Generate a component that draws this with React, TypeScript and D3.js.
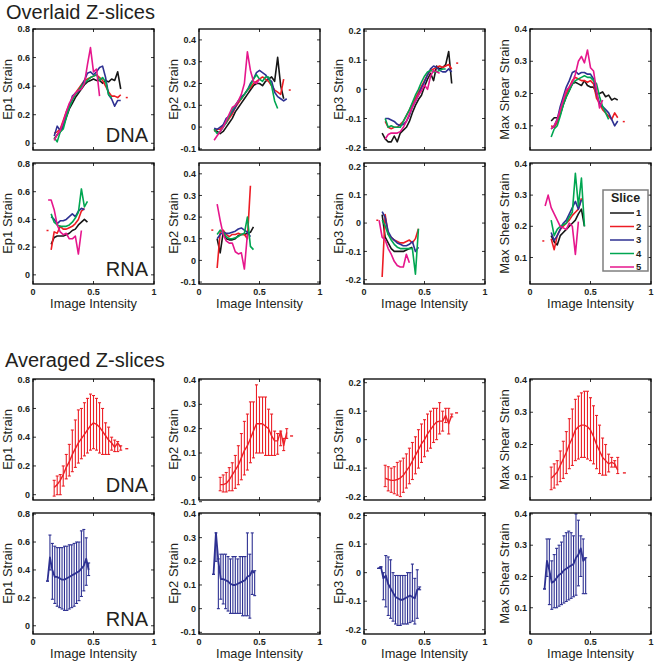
import React from "react";
import * as d3 from "d3";

// ---------- layout ----------
const W = 655;
const H = 663;
const COL_X = [33, 199, 364, 530];
const ROW_Y = [29, 163, 379, 513];
const PW = 121;
const PH = 121;
const FONT = "'Liberation Sans', Arial, Helvetica, sans-serif";
const TEXT = "#231f20";

// ---------- axes ----------
const X_TICKS = [0, 0.5, 1];
const Y_LABELS = ["Ep1 Strain", "Ep2 Strain", "Ep3 Strain", "Max Shear Strain"];
const Y_TICKS = [
  [0, 0.2, 0.4, 0.6, 0.8],
  [-0.1, 0, 0.1, 0.2, 0.3, 0.4],
  [-0.2, -0.1, 0, 0.1, 0.2],
  [0.1, 0.2, 0.3, 0.4],
];
// [row][col]
const Y_DOMAINS = [
  [[-0.047, 0.8], [-0.105, 0.45], [-0.208, 0.207], [0.025, 0.4]],
  [[-0.066, 0.807], [-0.109, 0.45], [-0.215, 0.212], [0.015, 0.403]],
  [[-0.037, 0.805], [-0.093, 0.404], [-0.212, 0.213], [0.028, 0.403]],
  [[-0.059, 0.808], [-0.107, 0.404], [-0.215, 0.209], [0.016, 0.403]],
];

const SLICES = ["1", "2", "3", "4", "5"];
const SLICE_COLORS = ["#161616", "#ed1c24", "#2e3192", "#00a651", "#e6168c"];
const DNA_COLOR = "#ec2027";
const RNA_COLOR = "#2e3192";

// ---------- overlaid data ----------
const DNA_X = [0.125, 0.15, 0.175, 0.2, 0.225, 0.25, 0.275, 0.3, 0.325, 0.35, 0.375, 0.4, 0.425, 0.45, 0.475, 0.5, 0.525, 0.55, 0.575, 0.6, 0.625, 0.65, 0.675, 0.7, 0.725];
const RNA_X = [0.125, 0.15, 0.175, 0.2, 0.225, 0.25, 0.275, 0.3, 0.325, 0.35, 0.375, 0.4, 0.425, 0.45];

const ep1Dna = [
  [null, null, 0.03, 0.06, 0.08, 0.12, 0.18, 0.24, 0.28, 0.32, 0.35, 0.38, 0.41, 0.43, 0.44, 0.45, 0.44, 0.44, 0.42, 0.44, 0.43, 0.45, 0.44, 0.5, 0.38],
  [null, null, 0.07, 0.08, 0.1, 0.16, 0.22, 0.27, 0.31, 0.35, 0.38, 0.41, 0.44, 0.45, 0.46, 0.47, 0.48, 0.46, 0.44, 0.4, 0.36, 0.33, 0.33, 0.32, 0.34],
  [null, null, 0.05, 0.12, 0.09, 0.12, 0.2, 0.25, 0.33, 0.35, 0.36, 0.4, 0.44, 0.49, 0.5, 0.48, 0.5, 0.53, 0.54, 0.46, 0.34, 0.31, 0.26, 0.3, 0.3],
  [null, null, 0.04, 0.01, 0.08, 0.1, 0.18, 0.25, 0.3, 0.34, 0.37, 0.4, 0.42, 0.44, 0.46, 0.47, 0.48, 0.44, 0.46, 0.43, 0.34, 0.32, null, null, null],
  [null, null, 0.02, 0.06, 0.09, 0.15, 0.22, 0.28, 0.32, 0.35, 0.37, 0.38, 0.42, 0.55, 0.67, 0.5, 0.52, 0.33, null, null, null, null, null, null, null],
];
const ep2Dna = [
  [-0.01, -0.02, -0.03, -0.02, 0.0, 0.02, 0.04, 0.07, 0.09, 0.11, 0.13, 0.15, 0.17, 0.19, 0.2, 0.2, 0.19, 0.21, 0.22, 0.23, 0.21, 0.32, 0.19, 0.13, null],
  [-0.02, -0.01, -0.01, 0.01, 0.02, 0.04, 0.06, 0.09, 0.11, 0.13, 0.15, 0.17, 0.18, 0.2, 0.21, 0.22, 0.23, 0.22, 0.21, 0.19, 0.17, 0.16, 0.15, 0.22, null],
  [-0.005, -0.01, 0.0, 0.01, 0.04, 0.05, 0.07, 0.09, 0.12, 0.14, 0.15, 0.17, 0.2, 0.22, 0.25, 0.26, 0.25, 0.24, 0.22, 0.21, 0.16, 0.14, 0.13, 0.12, 0.13],
  [-0.01, -0.03, -0.02, 0.0, 0.02, 0.05, 0.08, 0.1, 0.12, 0.13, 0.15, 0.17, 0.19, 0.22, 0.24, 0.22, 0.21, 0.23, 0.23, 0.19, 0.12, 0.085, null, null, null],
  [-0.06, -0.04, -0.02, 0.0, 0.03, 0.06, 0.09, 0.1, 0.12, 0.15, 0.2, 0.345, 0.26, 0.21, 0.2, 0.22, null, null, null, null, null, null, null, null, null],
];
const ep3Dna = [
  [null, -0.15, -0.17, -0.18, -0.18, -0.16, -0.18, -0.15, -0.14, -0.13, -0.11, -0.08, -0.055, -0.035, -0.02, 0.01, 0.035, 0.055, 0.03, 0.08, 0.07, 0.075, 0.085, 0.13, 0.02],
  [null, null, -0.11, -0.13, -0.135, -0.13, -0.13, -0.12, -0.11, -0.09, -0.07, -0.05, -0.03, -0.01, 0.01, 0.03, 0.05, 0.065, 0.07, 0.075, 0.08, 0.075, 0.08, 0.085, 0.07],
  [null, null, -0.1, -0.1, -0.105, -0.11, -0.12, -0.125, -0.12, -0.11, -0.09, -0.06, -0.04, -0.02, 0.005, 0.025, 0.05, 0.07, 0.08, 0.075, 0.065, 0.06, 0.06, 0.07, 0.06],
  [null, null, -0.1, -0.13, -0.125, -0.13, -0.13, -0.13, -0.11, -0.09, -0.07, -0.045, -0.02, 0.0, 0.025, 0.045, 0.06, 0.065, 0.06, 0.06, 0.065, 0.07, 0.07, null, null],
  [null, null, -0.17, -0.155, -0.15, -0.15, -0.15, -0.145, -0.13, -0.11, -0.085, -0.06, -0.04, -0.02, -0.005, 0.015, 0.0, 0.045, 0.065, 0.06, 0.055, null, null, null, null],
];
const maxDna = [
  [null, null, 0.115, 0.125, 0.125, 0.135, 0.165, 0.19, 0.21, 0.23, 0.235, 0.23, 0.225, 0.24, 0.225, 0.22, 0.22, 0.2, 0.2, 0.205, 0.19, 0.195, 0.18, 0.185, 0.18],
  [null, null, 0.1, 0.095, 0.11, 0.14, 0.17, 0.2, 0.22, 0.24, 0.25, 0.245, 0.24, 0.24, 0.235, 0.24, 0.23, 0.185, 0.17, 0.15, 0.14, 0.13, 0.12, 0.14, 0.125],
  [null, null, 0.09, 0.1, 0.12, 0.16, 0.19, 0.22, 0.24, 0.265, 0.27, 0.26, 0.265, 0.265, 0.26, 0.26, 0.245, 0.2, 0.17, 0.16, 0.15, 0.14, 0.12, 0.1, 0.115],
  [null, null, 0.065, 0.09, 0.1, 0.13, 0.165, 0.19, 0.21, 0.23, 0.24, 0.245, 0.25, 0.255, 0.25, 0.25, 0.24, 0.23, 0.19, 0.16, 0.14, 0.12, null, null, null],
  [null, null, 0.09, 0.1, 0.12, 0.15, 0.18, 0.21, 0.22, 0.235, 0.26, 0.3, 0.315, 0.295, 0.335, 0.28, 0.27, 0.21, 0.155, 0.18, null, null, null, null, null],
];
const ep1Rna = [
  [null, 0.22, 0.27, 0.28, 0.28, 0.28, 0.29, 0.3, 0.32, 0.33, 0.36, 0.38, 0.4, 0.38],
  [null, 0.18, 0.31, 0.3, 0.35, 0.33, 0.33, 0.34, 0.35, 0.37, 0.4, 0.46, 0.48, null],
  [null, 0.42, 0.4, 0.37, 0.39, 0.39, 0.4, 0.42, 0.44, 0.42, 0.46, 0.48, 0.47, null],
  [null, 0.44, 0.38, 0.36, 0.35, 0.35, 0.35, 0.36, 0.38, 0.41, 0.45, 0.62, 0.49, 0.53],
  [0.54, 0.54, 0.47, 0.36, 0.31, 0.29, 0.3, 0.26, 0.26, 0.28, 0.15, 0.32, null, null],
];
const ep2Rna = [
  [null, 0.1, 0.035, 0.13, 0.1, 0.095, 0.095, 0.1, 0.115, 0.12, 0.12, 0.125, 0.13, 0.155],
  [null, -0.035, 0.13, 0.14, 0.12, 0.11, 0.12, 0.12, 0.125, 0.12, 0.12, 0.1, 0.345, null],
  [null, 0.1, 0.12, 0.13, 0.125, 0.125, 0.13, 0.135, 0.145, 0.15, 0.14, 0.13, 0.11, null],
  [null, 0.12, 0.14, 0.13, 0.11, 0.1, 0.1, 0.105, 0.11, 0.12, 0.125, 0.2, 0.065, 0.05],
  [null, 0.26, 0.185, 0.12, 0.09, 0.08, 0.08, 0.04, 0.03, 0.035, -0.04, 0.12, null, null],
];
const ep3Rna = [
  [null, 0.03, -0.05, -0.07, -0.09, -0.1, -0.1, -0.1, -0.1, -0.095, -0.09, -0.085, null, null],
  [null, -0.19, 0.03, -0.04, -0.05, -0.06, -0.065, -0.07, -0.07, -0.065, -0.06, -0.07, -0.055, -0.02],
  [null, 0.04, 0.02, -0.03, -0.05, -0.06, -0.07, -0.075, -0.08, -0.08, -0.075, -0.065, -0.1, -0.085],
  [null, 0.01, -0.01, -0.04, -0.06, -0.075, -0.085, -0.09, -0.09, -0.09, -0.09, -0.09, -0.18, -0.02],
  [0.01, -0.05, -0.06, -0.09, -0.11, -0.135, -0.15, -0.155, -0.155, -0.11, -0.14, null, null, null],
];
const maxRna = [
  [null, null, 0.17, 0.15, 0.14, 0.17, 0.18, 0.19, 0.2, 0.21, 0.22, 0.24, 0.255, 0.2],
  [null, null, 0.16, 0.125, 0.17, 0.19, 0.2, 0.21, 0.22, 0.235, 0.245, 0.255, 0.29, null],
  [null, null, 0.18, 0.155, 0.17, 0.19, 0.21, 0.22, 0.24, 0.26, 0.28, 0.255, 0.285, null],
  [null, null, 0.22, 0.17, 0.19, 0.2, 0.205, 0.21, 0.23, 0.245, 0.37, 0.265, 0.355, 0.2],
  [0.265, 0.3, 0.26, 0.24, 0.22, 0.2, 0.195, 0.19, 0.21, 0.2, 0.11, 0.215, null, null],
];
// isolated single red points [x, y]
const STRAY_DNA = [[0.775, 0.32], [0.75, 0.17], [0.77, 0.09], [0.775, 0.113]];
const STRAY_RNA = [[0.12, 0.32], [0.11, 0.14], [0.11, 0.01], [0.11, 0.153]];

// ---------- averaged data ----------
const AVG_DNA_X = [0.175, 0.2, 0.225, 0.25, 0.275, 0.3, 0.325, 0.35, 0.375, 0.4, 0.425, 0.45, 0.475, 0.5, 0.525, 0.55, 0.575, 0.6, 0.625, 0.65, 0.675, 0.7, 0.725];
const AVG_RNA_X = [0.12, 0.14, 0.16, 0.18, 0.2, 0.22, 0.24, 0.26, 0.28, 0.3, 0.32, 0.34, 0.36, 0.38, 0.4, 0.42, 0.44, 0.46];

const ep1DnaMean = [0.05, 0.07, 0.1, 0.14, 0.19, 0.23, 0.28, 0.32, 0.36, 0.39, 0.42, 0.45, 0.48, 0.5, 0.49, 0.47, 0.44, 0.41, 0.38, 0.36, 0.33, 0.36, 0.33];
const ep1DnaHi = [0.1, 0.13, 0.14, 0.2, 0.28, 0.35, 0.45, 0.52, 0.59, 0.6, 0.64, 0.67, 0.7, 0.69, 0.67, 0.64, 0.6, 0.5, 0.47, 0.4, 0.38, 0.37, 0.34];
const ep1DnaLo = [-0.01, 0.0, 0.0, 0.06, 0.11, 0.13, 0.16, 0.19, 0.22, 0.25, 0.27, 0.29, 0.31, 0.32, 0.31, 0.29, 0.28, 0.28, 0.28, 0.31, 0.3, 0.3, 0.31];

const ep2DnaMean = [-0.03, -0.03, -0.025, -0.01, 0.01, 0.03, 0.05, 0.08, 0.11, 0.13, 0.16, 0.19, 0.22, 0.22, 0.22, 0.21, 0.2, 0.17, 0.15, 0.15, 0.19, 0.13, 0.185];
const ep2DnaHi = [0.0, 0.01, 0.02, 0.04, 0.06, 0.09, 0.13, 0.18, 0.23, 0.26, 0.31, 0.31, 0.38, 0.33, 0.33, 0.33, 0.28, 0.26, 0.19, 0.18, 0.19, 0.16, 0.2];
const ep2DnaLo = [-0.055, -0.06, -0.06, -0.055, -0.055, -0.045, -0.03, -0.01, 0.01, 0.03, 0.06, 0.08, 0.1, 0.1, 0.1, 0.09, 0.09, 0.09, 0.09, 0.095, 0.13, 0.11, 0.16];

const ep3DnaMean = [-0.135, -0.14, -0.143, -0.143, -0.14, -0.135, -0.125, -0.11, -0.095, -0.075, -0.055, -0.035, -0.015, 0.0, 0.02, 0.035, 0.05, 0.062, 0.065, 0.065, 0.085, 0.056, 0.085];
const ep3DnaHi = [-0.09, -0.095, -0.1, -0.095, -0.08, -0.075, -0.065, -0.05, -0.03, -0.01, 0.01, 0.035, 0.055, 0.07, 0.09, 0.1, 0.11, 0.11, 0.13, 0.1, 0.11, 0.11, 0.09];
const ep3DnaLo = [-0.165, -0.18, -0.185, -0.19, -0.195, -0.2, -0.185, -0.17, -0.155, -0.14, -0.12, -0.1, -0.08, -0.06, -0.04, -0.03, -0.01, 0.0, 0.02, 0.03, 0.06, 0.02, 0.08];

const maxDnaMean = [0.095, 0.105, 0.115, 0.135, 0.155, 0.175, 0.2, 0.22, 0.245, 0.255, 0.26, 0.26, 0.255, 0.245, 0.225, 0.2, 0.18, 0.16, 0.15, 0.14, 0.145, 0.14, 0.12];
const maxDnaHi = [0.13, 0.14, 0.15, 0.18, 0.21, 0.24, 0.28, 0.31, 0.34, 0.35, 0.36, 0.365, 0.365, 0.345, 0.32, 0.29, 0.26, 0.22, 0.2, 0.17, 0.16, 0.15, 0.16];
const maxDnaLo = [0.06, 0.065, 0.075, 0.085, 0.095, 0.11, 0.125, 0.135, 0.15, 0.155, 0.16, 0.16, 0.155, 0.15, 0.14, 0.125, 0.11, 0.105, 0.105, 0.115, 0.13, 0.13, 0.11];

const ep1RnaMean = [0.32, 0.49, 0.4, 0.35, 0.35, 0.34, 0.33, 0.33, 0.34, 0.35, 0.36, 0.37, 0.38, 0.39, 0.41, 0.43, 0.48, 0.4];
const ep1RnaHi = [0.32, 0.65, 0.59, 0.57, 0.56, 0.56, 0.56, 0.57, 0.57, 0.58, 0.58, 0.59, 0.6, 0.6, 0.68, 0.69, 0.63, 0.45];
const ep1RnaLo = [0.32, 0.4, 0.19, 0.16, 0.14, 0.13, 0.12, 0.11, 0.11, 0.12, 0.13, 0.14, 0.16, 0.18, 0.21, 0.25, 0.29, 0.36];

const ep2RnaMean = [0.145, 0.32, 0.2, 0.125, 0.125, 0.12, 0.115, 0.105, 0.1, 0.1, 0.105, 0.11, 0.115, 0.12, 0.135, 0.14, 0.16, 0.15];
const ep2RnaHi = [0.145, 0.32, 0.21, 0.23, 0.23, 0.23, 0.22, 0.21, 0.22, 0.22, 0.21, 0.22, 0.22, 0.22, 0.32, 0.23, 0.32, 0.16];
const ep2RnaLo = [0.145, 0.2, 0.0, 0.04, 0.02, 0.0, -0.01, -0.02, -0.02, -0.02, -0.02, -0.02, -0.03, -0.03, -0.03, -0.04, 0.06, 0.055];

const ep3RnaMean = [0.015, 0.02, -0.02, -0.01, -0.04, -0.055, -0.07, -0.085, -0.09, -0.095, -0.095, -0.09, -0.085, -0.08, -0.085, -0.09, -0.06, -0.055];
const ep3RnaHi = [0.015, 0.02, 0.0, 0.06, 0.055, 0.045, 0.0, -0.01, -0.01, -0.01, -0.01, -0.01, 0.0, 0.0, 0.03, -0.02, 0.01, -0.05];
const ep3RnaLo = [0.015, 0.02, -0.095, -0.12, -0.15, -0.16, -0.17, -0.18, -0.185, -0.185, -0.18, -0.18, -0.18, -0.175, -0.17, -0.18, -0.16, -0.06];

const maxRnaMean = [0.16, 0.25, 0.22, 0.18, 0.185, 0.195, 0.205, 0.21, 0.22, 0.225, 0.23, 0.235, 0.24, 0.26, 0.27, 0.29, 0.25, 0.26];
const maxRnaHi = [0.16, 0.32, 0.32, 0.25, 0.27, 0.29, 0.3, 0.31, 0.33, 0.34, 0.345, 0.34, 0.33, 0.4, 0.38, 0.33, 0.32, 0.26];
const maxRnaLo = [0.16, 0.2, 0.11, 0.095, 0.1, 0.1, 0.105, 0.11, 0.115, 0.12, 0.125, 0.13, 0.135, 0.14, 0.17, 0.2, 0.145, 0.145];

const STRAY_AVG_DNA = [[0.775, 0.32], [0.765, 0.17], [0.765, 0.094], [0.78, 0.112]];

// ---------- components ----------
type Sc = d3.ScaleLinear<number, number>;

function Frame({ row, col, children }: { row: number; col: number; children: (x: Sc, y: Sc) => React.ReactNode }) {
  const x = d3.scaleLinear().domain([0, 1]).range([0, PW]);
  const y = d3.scaleLinear().domain(Y_DOMAINS[row][col]).range([PH, 0]);
  const showX = row === 1 || row === 3;
  const clipId = `clip-${row}-${col}`;
  return (
    <g transform={`translate(${COL_X[col]},${ROW_Y[row]})`}>
      <defs>
        <clipPath id={clipId}>
          <rect x={0} y={0} width={PW} height={PH} />
        </clipPath>
      </defs>
      <rect width={PW} height={PH} fill="#fff" />
      <g clipPath={`url(#${clipId})`}>{children(x, y)}</g>
      {Y_TICKS[col].map((t) => (
        <g key={"y" + t}>
          <line x1={0} x2={3} y1={y(t)} y2={y(t)} stroke="#000" strokeWidth={0.8} />
          <line x1={PW - 3} x2={PW} y1={y(t)} y2={y(t)} stroke="#000" strokeWidth={0.8} />
          <text x={-3} y={y(t)} dy="0.35em" textAnchor="end" fontSize={9} fontWeight="bold" fill={TEXT}>
            {String(t)}
          </text>
        </g>
      ))}
      {X_TICKS.map((t) => (
        <g key={"x" + t}>
          <line x1={x(t)} x2={x(t)} y1={PH} y2={PH - 3} stroke="#000" strokeWidth={0.8} />
          <line x1={x(t)} x2={x(t)} y1={0} y2={3} stroke="#000" strokeWidth={0.8} />
          {showX && (
            <text x={x(t)} y={PH + 10.5} textAnchor="middle" fontSize={9} fontWeight="bold" fill={TEXT}>
              {String(t)}
            </text>
          )}
        </g>
      ))}
      <rect width={PW} height={PH} fill="none" stroke="#000" strokeWidth={1.3} />
      <text transform={`translate(-21,${PH / 2}) rotate(-90)`} textAnchor="middle" fontSize={13} fill={TEXT}>
        {Y_LABELS[col]}
      </text>
      {showX && (
        <text x={PW / 2} y={PH + 24} textAnchor="middle" fontSize={12.8} fill={TEXT}>
          Image Intensity
        </text>
      )}
      {col === 0 && (
        <text x={PW - 6} y={PH - 8} textAnchor="end" fontSize={20} fill={TEXT}>
          {row % 2 === 0 ? "DNA" : "RNA"}
        </text>
      )}
    </g>
  );
}

function Overlaid({ row, col, xs, series, stray }: { row: number; col: number; xs: number[]; series: (number | null)[][]; stray: number[] }) {
  return (
    <Frame row={row} col={col}>
      {(x, y) => {
        const line = d3
          .line<number | null>()
          .defined((d) => d !== null)
          .x((_, i) => x(xs[i]))
          .y((d) => y(d as number));
        return (
          <g>
            {series.map((s, k) => (
              <path key={k} d={line(s) || ""} fill="none" stroke={SLICE_COLORS[k]} strokeWidth={1.6} strokeLinejoin="round" />
            ))}
            <line x1={x(stray[0]) - 1} x2={x(stray[0]) + 1} y1={y(stray[1])} y2={y(stray[1])} stroke={SLICE_COLORS[1]} strokeWidth={1.5} />
          </g>
        );
      }}
    </Frame>
  );
}

function Averaged({ row, col, xs, mean, lo, hi, color, stray, meanWidth }: { row: number; col: number; xs: number[]; mean: number[]; lo: number[]; hi: number[]; color: string; stray?: number[]; meanWidth: number }) {
  return (
    <Frame row={row} col={col}>
      {(x, y) => {
        const line = d3
          .line<number>()
          .x((_, i) => x(xs[i]))
          .y((d) => y(d));
        return (
          <g>
            {xs.map((xv, i) => (
              <g key={i}>
                <line x1={x(xv)} x2={x(xv)} y1={y(lo[i])} y2={y(hi[i])} stroke={color} strokeWidth={1.1} />
                <line x1={x(xv) - 1.5} x2={x(xv) + 1.5} y1={y(lo[i])} y2={y(lo[i])} stroke={color} strokeWidth={1.1} />
                <line x1={x(xv) - 1.5} x2={x(xv) + 1.5} y1={y(hi[i])} y2={y(hi[i])} stroke={color} strokeWidth={1.1} />
              </g>
            ))}
            <path d={line(mean) || ""} fill="none" stroke={color} strokeWidth={meanWidth} strokeLinejoin="round" />
            {stray && (
              <line x1={x(stray[0]) - 1.5} x2={x(stray[0]) + 1.5} y1={y(stray[1])} y2={y(stray[1])} stroke={color} strokeWidth={1.4} />
            )}
          </g>
        );
      }}
    </Frame>
  );
}

function Legend() {
  const lx = 603;
  const ly = 190;
  const ys = d3.scaleLinear().domain([0, 4]).range([ly + 23, ly + 77]);
  return (
    <g>
      <rect x={lx} y={ly} width={45} height={81} fill="#fff" stroke="#7f7f7f" strokeWidth={1.5} />
      <text x={lx + 22.5} y={ly + 12} textAnchor="middle" fontSize={12.5} fontWeight="bold" fill={TEXT}>
        Slice
      </text>
      {SLICES.map((s, i) => (
        <g key={s}>
          <line x1={lx + 7} x2={lx + 31} y1={ys(i)} y2={ys(i)} stroke={SLICE_COLORS[i]} strokeWidth={1.5} />
          <text x={lx + 33} y={ys(i)} dy="0.35em" fontSize={9.5} fontWeight="bold" fill={TEXT}>
            {s}
          </text>
        </g>
      ))}
    </g>
  );
}

export default function App() {
  const dnaOver = [ep1Dna, ep2Dna, ep3Dna, maxDna];
  const rnaOver = [ep1Rna, ep2Rna, ep3Rna, maxRna];
  const dnaAvg = [
    [ep1DnaMean, ep1DnaLo, ep1DnaHi],
    [ep2DnaMean, ep2DnaLo, ep2DnaHi],
    [ep3DnaMean, ep3DnaLo, ep3DnaHi],
    [maxDnaMean, maxDnaLo, maxDnaHi],
  ];
  const rnaAvg = [
    [ep1RnaMean, ep1RnaLo, ep1RnaHi],
    [ep2RnaMean, ep2RnaLo, ep2RnaHi],
    [ep3RnaMean, ep3RnaLo, ep3RnaHi],
    [maxRnaMean, maxRnaLo, maxRnaHi],
  ];
  return (
    <svg width={W} height={H} viewBox={`0 0 ${W} ${H}`} style={{ position: "absolute", left: 0, top: 0, fontFamily: FONT, background: "#fff" }}>
      <rect width={W} height={H} fill="#fff" />
      <text x={6} y={19} fontSize={20} fill={TEXT}>
        Overlaid Z-slices
      </text>
      <text x={5} y={367} fontSize={20} fill={TEXT}>
        Averaged Z-slices
      </text>
      {dnaOver.map((s, c) => (
        <Overlaid key={"d" + c} row={0} col={c} xs={DNA_X} series={s} stray={STRAY_DNA[c]} />
      ))}
      {rnaOver.map((s, c) => (
        <Overlaid key={"r" + c} row={1} col={c} xs={RNA_X} series={s} stray={STRAY_RNA[c]} />
      ))}
      {dnaAvg.map(([m, lo, hi], c) => (
        <Averaged key={"ad" + c} row={2} col={c} xs={AVG_DNA_X} mean={m} lo={lo} hi={hi} color={DNA_COLOR} stray={STRAY_AVG_DNA[c]} meanWidth={1.4} />
      ))}
      {rnaAvg.map(([m, lo, hi], c) => (
        <Averaged key={"ar" + c} row={3} col={c} xs={AVG_RNA_X} mean={m} lo={lo} hi={hi} color={RNA_COLOR} meanWidth={1.8} />
      ))}
      <Legend />
    </svg>
  );
}
